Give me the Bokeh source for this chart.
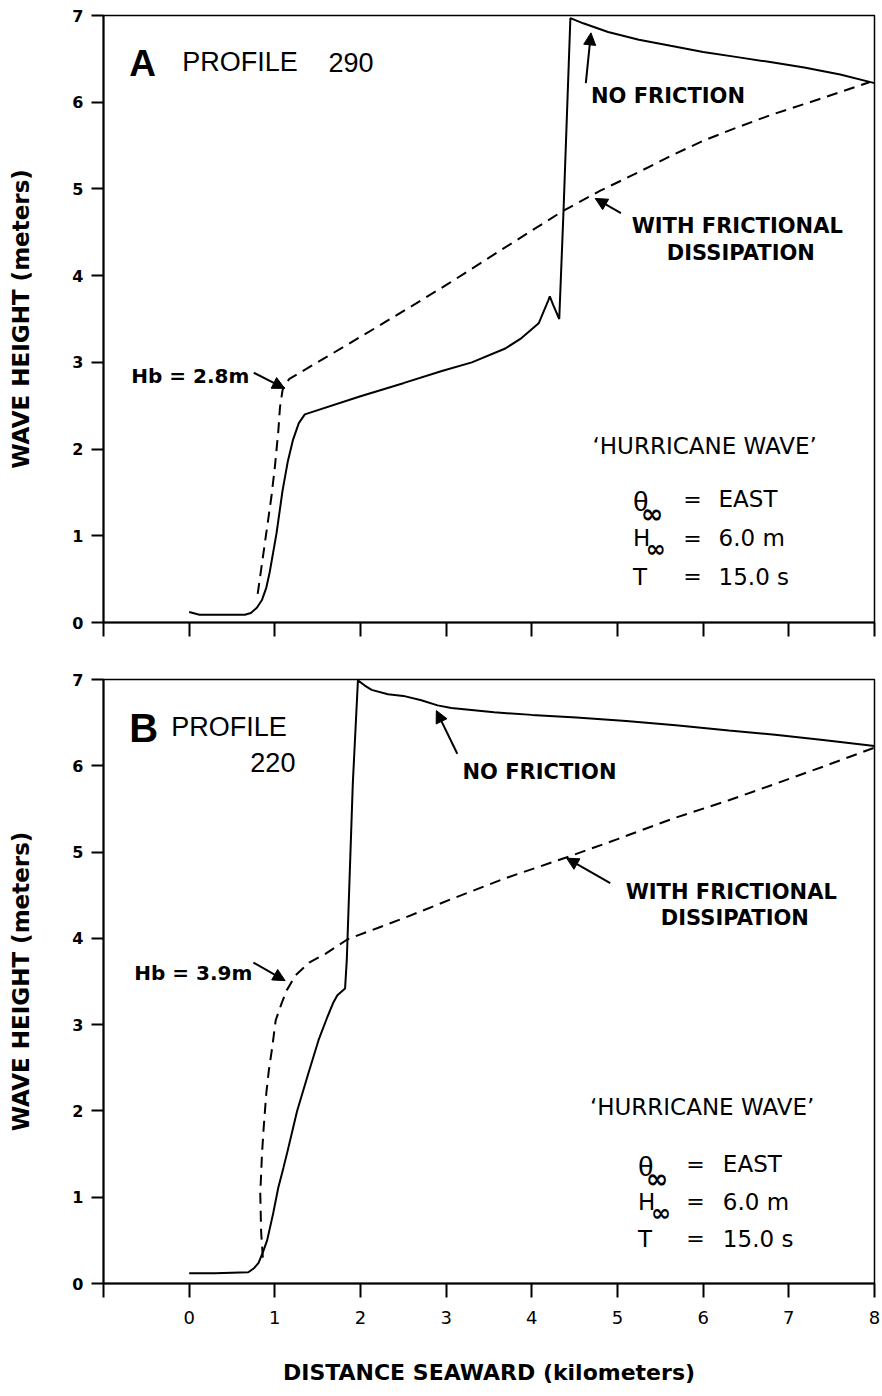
import numpy as np
from bokeh.plotting import figure
from bokeh.models import Range1d, FixedTicker, Label, Arrow, NormalHead
from bokeh.layouts import column
from bokeh.embed import file_html
from bokeh.resources import INLINE

# ---------------- data ----------------
x_ticks = [-1, 0, 1, 2, 3, 4, 5, 6, 7, 8]
x_tick_labels = ["", "0", "1", "2", "3", "4", "5", "6", "7", "8"]
y_ticks = [0, 1, 2, 3, 4, 5, 6, 7]

# Panel A, profile 290
a_nofric_x = [0.0, 0.12, 0.3, 0.65, 0.72, 0.79, 0.85, 0.9, 0.94, 1.02, 1.09, 1.15, 1.21, 1.28, 1.35,
              2.0, 2.5, 2.95, 3.30, 3.69, 3.88, 4.08, 4.19, 4.21, 4.25, 4.32, 4.37, 4.45, 4.6, 4.89,
              5.25, 5.62, 6.0, 6.4, 6.8, 7.18, 7.6, 8.0]
a_nofric_y = [0.12, 0.09, 0.09, 0.09, 0.11, 0.17, 0.26, 0.40, 0.58, 1.03, 1.52, 1.85, 2.10, 2.30, 2.40,
              2.61, 2.76, 2.90, 3.00, 3.16, 3.28, 3.45, 3.71, 3.76, 3.66, 3.50, 4.75, 6.97, 6.91, 6.81,
              6.72, 6.65, 6.58, 6.52, 6.46, 6.40, 6.32, 6.22]
a_fric_x = [0.80, 0.86, 0.90, 0.96, 1.00, 1.04, 1.06, 1.09, 1.13, 1.17, 1.6, 2.18, 2.65, 3.03,
            3.6, 4.0, 4.37, 4.8, 5.24, 5.6, 6.01, 6.4, 6.78, 7.4, 7.94]
a_fric_y = [0.33, 0.75, 1.03, 1.45, 1.79, 2.20, 2.48, 2.68, 2.76, 2.81, 3.06, 3.40, 3.68, 3.91,
            4.27, 4.52, 4.75, 4.98, 5.19, 5.37, 5.56, 5.71, 5.85, 6.05, 6.23]

# Panel B, profile 220
b_nofric_x = [0.0, 0.3, 0.69, 0.76, 0.81, 0.86, 0.91, 0.98, 1.04, 1.10, 1.15, 1.26, 1.39, 1.51,
              1.61, 1.68, 1.73, 1.82, 1.84, 1.91, 1.97, 2.05, 2.13, 2.32, 2.5, 2.71, 2.9, 3.06,
              3.56, 4.0, 4.52, 5.1, 5.68, 6.3, 6.84, 7.4, 8.0]
b_nofric_y = [0.12, 0.12, 0.13, 0.18, 0.24, 0.36, 0.50, 0.81, 1.11, 1.34, 1.54, 2.00, 2.43, 2.82,
              3.08, 3.25, 3.34, 3.42, 3.75, 5.79, 6.99, 6.93, 6.88, 6.83, 6.81, 6.76, 6.70, 6.67,
              6.62, 6.59, 6.56, 6.52, 6.47, 6.41, 6.36, 6.30, 6.23]
b_fric_x = [0.86, 0.84, 0.83, 0.85, 0.87, 0.90, 0.93, 0.97, 1.01, 1.08, 1.14, 1.24, 1.4, 1.59,
            1.85, 2.2, 2.52, 3.1, 3.7, 4.41, 5.0, 5.68, 6.3, 6.84, 7.4, 8.0]
b_fric_y = [0.30, 0.60, 1.04, 1.50, 1.81, 2.20, 2.47, 2.74, 3.05, 3.25, 3.40, 3.57, 3.72, 3.82,
            3.99, 4.12, 4.24, 4.47, 4.70, 4.94, 5.15, 5.40, 5.60, 5.79, 5.99, 6.21]

y_title = "WAVE HEIGHT (meters)"
x_title = "DISTANCE SEAWARD (kilometers)"

HELV = "Liberation Sans"
FONT = "DejaVu Sans"


def make_fig(height, left, right, top, bottom, show_xlabels):
    p = figure(width=882, height=height, output_backend="svg", toolbar_location=None,
               x_range=Range1d(-1, 8), y_range=Range1d(0, 7), title=None,
               min_border_left=left, min_border_right=right,
               min_border_top=top, min_border_bottom=bottom)
    p.grid.visible = False
    p.outline_line_color = "black"
    p.outline_line_width = 1.5
    p.background_fill_color = "white"
    p.border_fill_color = "white"
    for ax in (p.xaxis, p.yaxis):
        ax.axis_line_width = 2
        ax.axis_line_color = "black"
        ax.major_tick_line_width = 2
        ax.major_tick_line_color = "black"
        ax.major_tick_in = 0
        ax.minor_tick_line_color = None
    p.xaxis.ticker = FixedTicker(ticks=x_ticks)
    p.yaxis.ticker = FixedTicker(ticks=y_ticks)
    p.xaxis.major_tick_out = 14
    p.yaxis.major_tick_out = 12
    p.yaxis.major_label_standoff = 8
    p.yaxis.major_label_text_font = FONT
    p.yaxis.major_label_text_font_style = "bold"
    p.yaxis.major_label_text_font_size = "16px"
    p.yaxis.major_label_text_color = "black"
    p.yaxis.axis_label = y_title
    p.yaxis.axis_label_text_font = FONT
    p.yaxis.axis_label_text_font_style = "bold"
    p.yaxis.axis_label_text_font_size = "23px"
    p.yaxis.axis_label_text_color = "black"
    p.yaxis.axis_label_standoff = 35
    if show_xlabels:
        p.xaxis.major_label_overrides = {t: l for t, l in zip(x_ticks, x_tick_labels)}
        p.xaxis.major_label_text_font = FONT
        p.xaxis.major_label_text_font_size = "18px"
        p.xaxis.major_label_text_color = "black"
        p.xaxis.major_label_standoff = 13
        p.xaxis.axis_label = x_title
        p.xaxis.axis_label_text_font = FONT
        p.xaxis.axis_label_text_font_style = "bold"
        p.xaxis.axis_label_text_font_size = "22px"
        p.xaxis.axis_label_text_color = "black"
        p.xaxis.axis_label_standoff = 33
    else:
        p.xaxis.major_label_overrides = {t: "" for t in x_ticks}
        p.xaxis.major_label_text_font_size = "1px"
    return p


def txt(p, x, y, text, size, style="normal", align="left", baseline="alphabetic", font=FONT):
    p.add_layout(Label(x=x, y=y, text=text,
                       text_font=font, text_font_size=f"{size}px", text_font_style=style,
                       text_align=align, text_baseline=baseline, text_color="black"))


def arrow(p, xs, ys, xe, ye):
    p.add_layout(Arrow(end=NormalHead(size=12, fill_color="black", line_color="black", line_width=1),
                       x_start=xs, y_start=ys, x_end=xe, y_end=ye,
                       line_width=2, line_color="black"))


def params_block(p, xsym, xeq, xval, ys, px):
    # px: data units per pixel (x, y)
    dx, dy = px
    rows = [("θ", "EAST"), ("H", "6.0 m"), ("T", "15.0 s")]
    for i, (sym, val) in enumerate(rows):
        y = ys[i]
        if sym == "θ":
            txt(p, xsym, y - 2 * dy, sym, 28, font=HELV)
            txt(p, xsym + 8 * dx, y - 14 * dy, "∞", 27, style="bold")
        elif sym == "H":
            txt(p, xsym, y, sym, 23)
            txt(p, xsym + 13 * dx, y - 11 * dy, "∞", 24, style="bold")
        else:
            txt(p, xsym, y, sym, 23)
        txt(p, xeq, y, "=", 22, align="center")
        txt(p, xval, y, val, 23)


# ---------------- panel A ----------------
pa = make_fig(662, 103, 4, 15, 40, False)
pa.line(a_nofric_x, a_nofric_y, line_color="black", line_width=2)
pa.line(a_fric_x, a_fric_y, line_color="black", line_width=2, line_dash="11 7")

txt(pa, -0.70, 6.45, "A", 37, style="bold", font=HELV)
txt(pa, -0.08, 6.46, "PROFILE", 27, font=HELV)
txt(pa, 1.625, 6.46, "290", 27, font=HELV)
txt(pa, 4.69, 6.07, "NO  FRICTION", 21, style="bold")
arrow(pa, 4.63, 6.22, 4.69, 6.80)
txt(pa, 6.44, 4.57, "WITH  FRICTIONAL", 21, style="bold", align="center")
txt(pa, 6.44, 4.26, "DISSIPATION", 21, style="bold", align="center")
arrow(pa, 5.04, 4.72, 4.74, 4.89)
txt(pa, -0.675, 2.84, "Hb = 2.8m", 20, style="bold")
arrow(pa, 0.754, 2.88, 1.114, 2.70)
txt(pa, 6.06, 2.04, "‘HURRICANE  WAVE’", 23, align="center")
params_block(pa, 5.18, 5.875, 6.18, [1.42, 0.97, 0.53], (1 / 86.11, 1 / 86.71))

# ---------------- panel B ----------------
pb = make_fig(734, 97, 8, 17, 113, True)
pb.line(b_nofric_x, b_nofric_y, line_color="black", line_width=2)
pb.line(b_fric_x, b_fric_y, line_color="black", line_width=2, line_dash="11 7")

txt(pb, -0.70, 6.44, "B", 40, style="bold", font=HELV)
txt(pb, -0.21, 6.45, "PROFILE", 27, font=HELV)
txt(pb, 1.24, 6.04, "220", 27, align="right", font=HELV)
txt(pb, 3.19, 5.93, "NO  FRICTION", 21, style="bold")
arrow(pb, 3.13, 6.14, 2.885, 6.64)
txt(pb, 6.37, 4.54, "WITH  FRICTIONAL", 21, style="bold", align="center")
txt(pb, 6.37, 4.24, "DISSIPATION", 21, style="bold", align="center")
arrow(pb, 4.915, 4.64, 4.405, 4.93)
txt(pb, -0.64, 3.60, "Hb = 3.9m", 20, style="bold")
arrow(pb, 0.75, 3.72, 1.12, 3.51)
txt(pb, 6.03, 2.04, "‘HURRICANE  WAVE’", 23, align="center")
params_block(pb, 5.24, 5.91, 6.23, [1.38, 0.95, 0.52], (1 / 86.22, 1 / 86.29))

layout = column(pa, pb)
open("out.html", "w").write(file_html(layout, INLINE))
